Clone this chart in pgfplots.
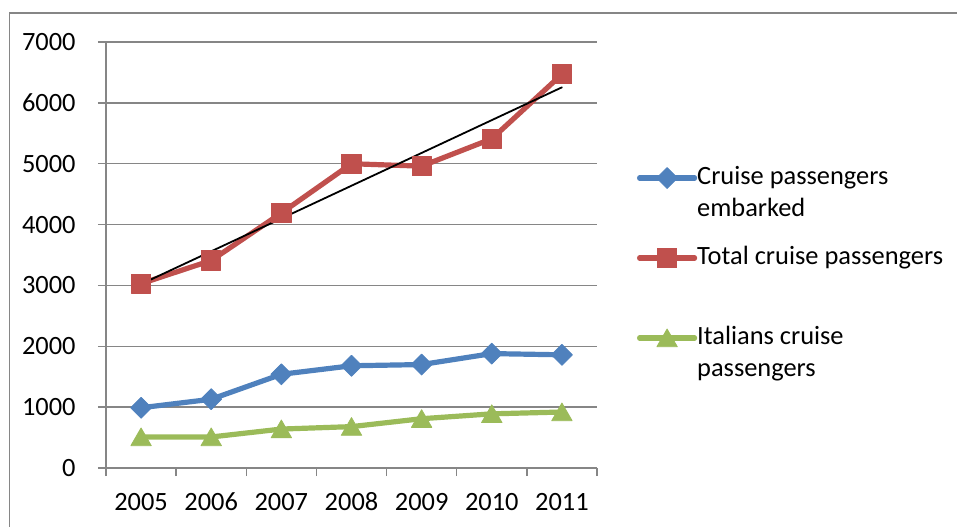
\documentclass[border=0pt]{standalone}
\usepackage{pgfplots}
\usepackage{pgfplotstable}
\pgfplotsset{compat=1.18}
\usepackage{fontspec}
\setmainfont{Carlito}

\definecolor{xlblue}{RGB}{79,129,189}
\definecolor{xlred}{RGB}{192,80,77}
\definecolor{xlgreen}{RGB}{155,187,89}
\definecolor{xlgray}{RGB}{134,134,134}

% Cruise passengers (thousands), 2005--2011
\pgfplotstableread{
idx embarked total italians
0   990  3030 510
1   1130 3410 510
2   1540 4190 640
3   1680 5000 680
4   1700 4960 810
5   1880 5410 890
6   1860 6470 920
}\cruisedata

\begin{document}
\begin{tikzpicture}[font=\fontsize{13.2}{16}\selectfont]
\useasboundingbox (-53pt,-29pt) rectangle (425.5pt,234pt);
% chart area frame
\draw[xlgray, line width=0.75pt] (-48.25pt,-40pt) -- (-48.25pt,227.5pt) -- (440pt,227.5pt);
\begin{axis}[
  at={(0pt,0pt)}, anchor=south west,
  scale only axis, width=245.5pt, height=213pt,
  xmin=-0.5, xmax=6.5, ymin=0, ymax=7000,
  axis x line*=bottom, axis y line*=left,
  axis line style={xlgray, line width=0.75pt, -},
  ytick={0,1000,...,7000},
  ymajorgrids, grid style={xlgray, line width=0.75pt},
  xtick={0,...,6},
  xticklabels={2005,2006,2007,2008,2009,2010,2011},
  major x tick style={draw=none},
  minor xtick={-0.5,0.5,...,6.5},
  tick style={xlgray, line width=0.75pt},
  tick align=outside,
  major tick length=4pt, minor tick length=4pt,
  scaled y ticks=false,
  /pgf/number format/assume math mode=true,
  /pgf/number format/1000 sep={},
  xticklabel style={inner sep=0pt, anchor=north, text height=8.3pt, text depth=0pt, yshift=-8.5pt},
  yticklabel style={inner sep=0pt, anchor=east, xshift=-11pt},
  clip=false,
  legend cell align=left,
  legend style={at={(1.08147,0.70892)}, anchor=north west, draw=none, fill=none,
    inner sep=0pt, outer sep=0pt, row sep=28pt, column sep=0pt,
    nodes={inner sep=0pt, inner xsep=0pt, text height=9pt, text depth=3pt}},
  legend image code/.code={\draw[mark repeat=2,mark phase=2] plot coordinates {(0pt,0pt)(13.75pt,0pt)(27.5pt,0pt)};},
  every axis plot/.append style={line width=2.6pt, line cap=round, line join=round},
]
\addplot[xlblue, mark=square*, mark size=3.7pt,
  mark options={solid, rotate=45, line width=0.4pt, fill=xlblue}]
  table[x=idx, y=embarked] {\cruisedata};
\addlegendentry{\rlap{\smash{\raisebox{-16pt}{embarked}}}Cruise passengers}
\addplot[xlred, mark=square*, mark size=4.8pt,
  mark options={solid, line width=0.4pt, fill=xlred}]
  table[x=idx, y=total] {\cruisedata};
\addlegendentry{Total cruise passengers}
\addplot[xlgreen, mark=triangle*, mark size=5.9pt,
  mark options={solid, line width=0.4pt, fill=xlgreen, yshift=-1.4pt}]
  table[x=idx, y=italians] {\cruisedata};
\addlegendentry{\rlap{\smash{\raisebox{-16pt}{passengers}}}Italians cruise}
% linear trend of the total
\addplot[black, line width=0.9pt, no marks, forget plot]
  table[x=idx, y={create col/linear regression={y=total}}] {\cruisedata};
\end{axis}
\end{tikzpicture}
\end{document}
